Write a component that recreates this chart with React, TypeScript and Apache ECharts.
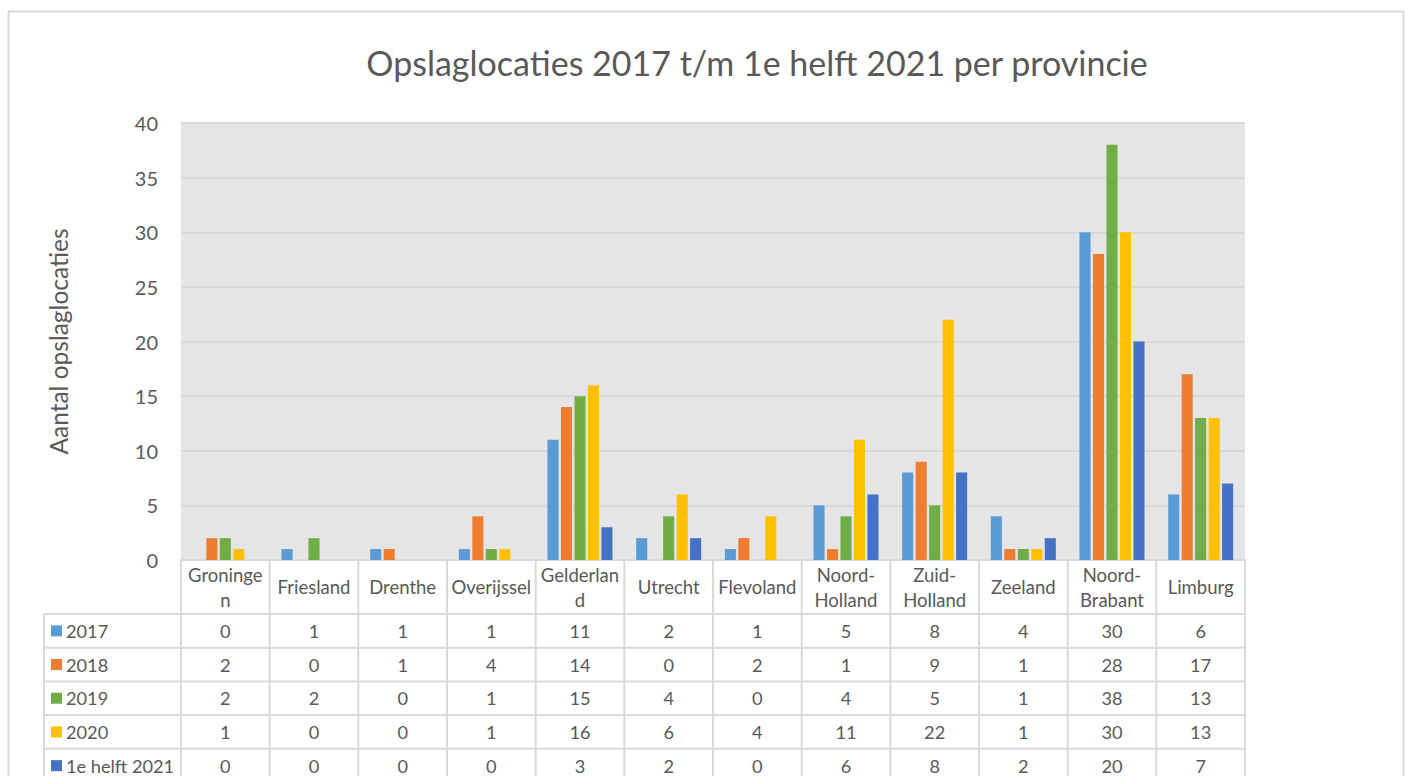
import React, { useEffect, useRef } from "react";
import * as echarts from "echarts";

const titleText = "Opslaglocaties 2017 t/m 1e helft 2021 per provincie";
const yAxisTitle = "Aantal opslaglocaties";
const categories = [
  "Groningen", "Friesland", "Drenthe", "Overijssel", "Gelderland", "Utrecht",
  "Flevoland", "Noord-Holland", "Zuid-Holland", "Zeeland", "Noord-Brabant", "Limburg",
];
const categoryLabels = [
  "Groninge\nn", "Friesland", "Drenthe", "Overijssel", "Gelderlan\nd", "Utrecht",
  "Flevoland", "Noord-\nHolland", "Zuid-\nHolland", "Zeeland", "Noord-\nBrabant", "Limburg",
];
const seriesNames = ["2017", "2018", "2019", "2020", "1e helft 2021"];
const seriesColors = ["#5b9bd5", "#ed7d31", "#70ad47", "#ffc000", "#4472c4"];
const v2017 = [0, 1, 1, 1, 11, 2, 1, 5, 8, 4, 30, 6];
const v2018 = [2, 0, 1, 4, 14, 0, 2, 1, 9, 1, 28, 17];
const v2019 = [2, 2, 0, 1, 15, 4, 0, 4, 5, 1, 38, 13];
const v2020 = [1, 0, 0, 1, 16, 6, 4, 11, 22, 1, 30, 13];
const v2021 = [0, 0, 0, 0, 3, 2, 0, 6, 8, 2, 20, 7];
const seriesValues = [v2017, v2018, v2019, v2020, v2021];
const yMin = 0;
const yMax = 40;
const yInterval = 5;

const FONT = "Lato, 'Open Sans', sans-serif";
const TEXT = "#595959";
const LINE = "#d9d9d9";

export default function App() {
  const ref = useRef<HTMLDivElement>(null);
  useEffect(() => {
    if (!ref.current) return;
    const chart = echarts.init(ref.current, null, { renderer: "svg" });
    const option: any = {
      animation: false,
      backgroundColor: "#ffffff",
      textStyle: { fontFamily: FONT, color: TEXT },
      title: {
        text: titleText,
        left: 752,
        top: 40,
        textAlign: "center",
        textStyle: { fontFamily: FONT, fontSize: 34, fontWeight: "normal", color: TEXT },
      },
      grid: {
        left: 181,
        right: 163,
        top: 123,
        bottom: 216,
        show: true,
        backgroundColor: "#e5e5e5",
        borderWidth: 0,
        outerBoundsMode: "none",
      },
      xAxis: {
        type: "category",
        data: categoryLabels,
        axisLine: { show: true, lineStyle: { color: LINE, width: 2 } },
        axisTick: { show: false },
        axisLabel: {
          interval: 0,
          margin: 27,
          verticalAlign: "middle",
          fontSize: 18.5,
          lineHeight: 25,
          color: TEXT,
          fontFamily: FONT,
        },
      },
      yAxis: {
        type: "value",
        min: yMin,
        max: yMax,
        interval: yInterval,
        name: yAxisTitle,
        nameLocation: "middle",
        nameRotate: 90,
        nameGap: 110,
        nameTextStyle: { fontSize: 24.5, color: TEXT, fontFamily: FONT },
        axisLine: { show: false },
        axisTick: { show: false },
        axisLabel: { fontSize: 20, color: TEXT, margin: 23, fontFamily: FONT },
        splitLine: { lineStyle: { color: LINE, width: 2 } },
      },
      series: seriesNames.map((name, i) => ({
        name,
        type: "bar",
        data: seriesValues[i],
        barGap: "22%",
        barCategoryGap: "26.7%",
        itemStyle: { color: seriesColors[i] },
      })),
    };
    chart.setOption(option);

    // Build data table from the axes' own pixel mapping
    const c0 = chart.convertToPixel({ xAxisIndex: 0 }, 0) as number;
    const c1 = chart.convertToPixel({ xAxisIndex: 0 }, 1) as number;
    const catW = c1 - c0;
    const left = c0 - catW / 2;
    const right = left + catW * categories.length;
    const yBase = chart.convertToPixel({ yAxisIndex: 0 }, yMin) as number;
    const headerH = 54;
    const rowH = 33.7;
    const tableLeft = 44;
    const tableBottom = 800;
    const g: any[] = [];
    const lineStyle = { stroke: LINE, lineWidth: 2 };
    g.push({
      type: "rect",
      shape: { x: 8.5, y: 11.5, width: 1395, height: 800 },
      style: { fill: "none", stroke: LINE, lineWidth: 2 },
      silent: true,
    });
    for (let j = 0; j <= categories.length; j++) {
      const x = left + j * catW;
      g.push({ type: "line", shape: { x1: x, y1: yBase, x2: x, y2: tableBottom }, style: lineStyle });
    }
    g.push({ type: "line", shape: { x1: tableLeft, y1: yBase + headerH, x2: tableLeft, y2: tableBottom }, style: lineStyle });
    for (let r = 0; r < seriesNames.length; r++) {
      const y = yBase + headerH + r * rowH;
      g.push({ type: "line", shape: { x1: tableLeft, y1: y, x2: right, y2: y }, style: lineStyle });
    }
    seriesNames.forEach((name, r) => {
      const cy = yBase + headerH + r * rowH + rowH / 2;
      g.push({
        type: "rect",
        shape: { x: 51, y: cy - 5.5, width: 11, height: 11 },
        style: { fill: seriesColors[r] },
      });
      g.push({
        type: "text",
        x: 66,
        y: cy,
        style: { text: name, fill: TEXT, font: `18.2px ${FONT}`, align: "left", verticalAlign: "middle" },
      });
      seriesValues[r].forEach((v, j) => {
        const cx = chart.convertToPixel({ xAxisIndex: 0 }, j) as number;
        g.push({
          type: "text",
          x: cx,
          y: cy,
          style: { text: String(v), fill: TEXT, font: `18.2px ${FONT}`, align: "center", verticalAlign: "middle" },
        });
      });
    });
    chart.setOption({ graphic: { elements: g } });

    return () => chart.dispose();
  }, []);
  return (
    <div
      ref={ref}
      style={{ position: "fixed", left: 0, top: 0, width: 1408, height: 776 }}
    />
  );
}
